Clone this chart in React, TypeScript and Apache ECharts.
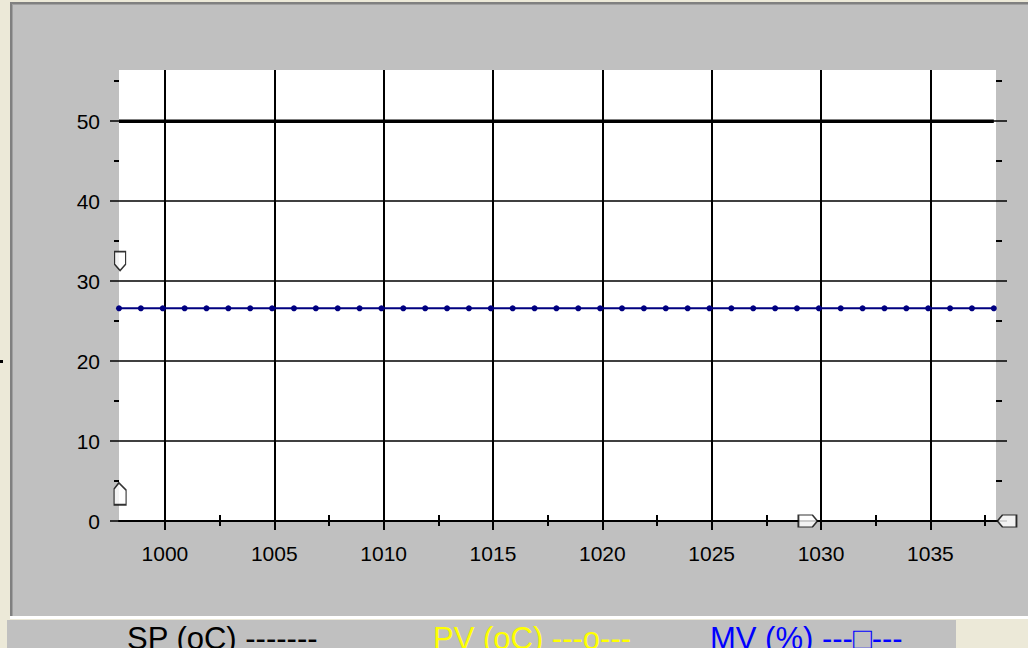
import React, { useEffect, useRef } from "react";
import * as echarts from "echarts";

// ---- data ----
const times = [
  997.9, 998.9, 999.9, 1000.9, 1001.9, 1002.9, 1003.9, 1004.9, 1005.9, 1006.9,
  1007.9, 1008.9, 1009.9, 1010.9, 1011.9, 1012.9, 1013.9, 1014.9, 1015.9, 1016.9,
  1017.9, 1018.9, 1019.9, 1020.9, 1021.9, 1022.9, 1023.9, 1024.9, 1025.9, 1026.9,
  1027.9, 1028.9, 1029.9, 1030.9, 1031.9, 1032.9, 1033.9, 1034.9, 1035.9, 1036.9,
  1037.9,
];
const mvValues = [
  26.6, 26.6, 26.6, 26.6, 26.6, 26.6, 26.6, 26.6, 26.6, 26.6,
  26.6, 26.6, 26.6, 26.6, 26.6, 26.6, 26.6, 26.6, 26.6, 26.6,
  26.6, 26.6, 26.6, 26.6, 26.6, 26.6, 26.6, 26.6, 26.6, 26.6,
  26.6, 26.6, 26.6, 26.6, 26.6, 26.6, 26.6, 26.6, 26.6, 26.6,
  26.6,
];
const spValues = [
  50, 50, 50, 50, 50, 50, 50, 50, 50, 50,
  50, 50, 50, 50, 50, 50, 50, 50, 50, 50,
  50, 50, 50, 50, 50, 50, 50, 50, 50, 50,
  50, 50, 50, 50, 50, 50, 50, 50, 50, 50,
  50,
];
const xMin = 997.9;
const xMax = 1038.0;
const yMin = 0;
const yMax = 56.4;
const xTickValues = [1000, 1005, 1010, 1015, 1020, 1025, 1030, 1035];
const xMinorValues = [1002.5, 1007.5, 1012.5, 1017.5, 1022.5, 1027.5, 1032.5, 1037.5];
const yTickValues = [0, 10, 20, 30, 40, 50];
const yMinorValues = [5, 15, 25, 35, 45, 55];
// cursor handles: [x, y]
const handleUpper = [[997.95, 32.5]];
const handleLower = [[997.95, 3.4]];
const handleBottomA = [[1029.4, 0]];
const handleBottomB = [[1038.5, 0]];
const legendLabels = ["SP (oC) -------", "PV (oC) ---o---", "MV (%) ---□---"];
const legendColors = ["#000000", "#FFFF00", "#0000FF"];

const FONT = "'Liberation Sans', Arial, sans-serif";

const PATH_DOWN = "path://M0,0 L10,0 L10,12 L5,18 L0,12 Z";
const PATH_UP = "path://M4,0 L10,6 L10,18 L0,18 L0,5 Z";
const PATH_RIGHT = "path://M0,0 L14,0 L19,6 L14,12 L0,12 Z";
const PATH_LEFT = "path://M5,0 L19,0 L19,12 L5,12 L0,6 Z";

function buildOption(): any {
  const black = "#000000";
  const gridBox = { left: 119, top: 70, width: 877, height: 451 };
  const handleStyle = { color: "#FFFFFF", borderColor: "#000000", borderWidth: 1.5 };
  const legendX = [127, 433, 710];
  const plain = (v: number) => String(v);
  return {
    animation: false,
    backgroundColor: "transparent",
    grid: [
      { ...gridBox, show: true, backgroundColor: "#FFFFFF", borderWidth: 0 },
      { ...gridBox, show: false },
    ],
    xAxis: [
      {
        gridIndex: 0, type: "value", position: "bottom", min: xMin, max: xMax,
        axisLine: { show: true, onZero: false, lineStyle: { color: black, width: 2 } },
        axisTick: { show: true, customValues: xTickValues, length: 9, lineStyle: { color: black, width: 2 } },
        axisLabel: { show: true, customValues: xTickValues, formatter: plain, margin: 22, color: black, fontSize: 21, fontFamily: FONT },
        splitLine: { show: true, lineStyle: { color: black, width: 2 } },
      },
      {
        gridIndex: 0, type: "value", position: "top", min: xMin, max: xMax,
        axisLine: { show: false },
        axisTick: { show: true, customValues: xTickValues, length: 11, lineStyle: { color: black, width: 2 } },
        axisLabel: { show: false },
        splitLine: { show: false },
      },
      {
        gridIndex: 1, type: "value", position: "bottom", min: xMin, max: xMax,
        axisLine: { show: false },
        axisTick: { show: true, customValues: xMinorValues, length: 5, lineStyle: { color: black, width: 2 } },
        axisLabel: { show: false },
        splitLine: { show: false },
      },
      {
        gridIndex: 1, type: "value", position: "top", min: xMin, max: xMax,
        axisLine: { show: false },
        axisTick: { show: true, customValues: xMinorValues, length: 6, lineStyle: { color: black, width: 2 } },
        axisLabel: { show: false },
        splitLine: { show: false },
      },
    ],
    yAxis: [
      {
        gridIndex: 0, type: "value", position: "left", min: yMin, max: yMax,
        axisLine: { show: false },
        axisTick: { show: true, customValues: yTickValues, length: 9, lineStyle: { color: black, width: 1.5 } },
        axisLabel: { show: true, customValues: yTickValues, formatter: plain, margin: 19, color: black, fontSize: 21, fontFamily: FONT },
        splitLine: { show: true, lineStyle: { color: black, width: 1.5 } },
      },
      {
        gridIndex: 0, type: "value", position: "right", min: yMin, max: yMax,
        axisLine: { show: false },
        axisTick: { show: true, customValues: yTickValues, length: 11, lineStyle: { color: black, width: 1.5 } },
        axisLabel: { show: false },
        splitLine: { show: false },
      },
      {
        gridIndex: 1, type: "value", position: "left", min: yMin, max: yMax,
        axisLine: { show: false },
        axisTick: { show: true, customValues: yMinorValues, length: 5, lineStyle: { color: black, width: 2 } },
        axisLabel: { show: false },
        splitLine: { show: false },
      },
      {
        gridIndex: 1, type: "value", position: "right", min: yMin, max: yMax,
        axisLine: { show: false },
        axisTick: { show: true, customValues: yMinorValues, length: 6, lineStyle: { color: black, width: 2 } },
        axisLabel: { show: false },
        splitLine: { show: false },
      },
    ],
    series: [
      {
        name: "SP (oC)", type: "line", xAxisIndex: 0, yAxisIndex: 0,
        data: times.map((t, i) => [t, spValues[i]]),
        showSymbol: false, symbol: "none",
        lineStyle: { color: black, width: 3.5 }, z: 3,
      },
      {
        name: "MV (%)", type: "line", xAxisIndex: 0, yAxisIndex: 0,
        data: times.map((t, i) => [t, mvValues[i]]),
        symbol: "circle", symbolSize: 6, showSymbol: true,
        itemStyle: { color: "#000080" },
        lineStyle: { color: "#000080", width: 2 }, z: 4,
      },
      { type: "scatter", xAxisIndex: 0, yAxisIndex: 0, data: handleUpper, symbol: PATH_DOWN, symbolSize: [11, 19], clip: false, itemStyle: handleStyle, z: 10, silent: true },
      { type: "scatter", xAxisIndex: 0, yAxisIndex: 0, data: handleLower, symbol: PATH_UP, symbolSize: [12, 22], clip: false, itemStyle: handleStyle, z: 10, silent: true },
      { type: "scatter", xAxisIndex: 0, yAxisIndex: 0, data: handleBottomA, symbol: PATH_RIGHT, symbolSize: [19, 12], clip: false, itemStyle: handleStyle, z: 10, silent: true },
      { type: "scatter", xAxisIndex: 0, yAxisIndex: 0, data: handleBottomB, symbol: PATH_LEFT, symbolSize: [19, 12], clip: false, itemStyle: handleStyle, z: 10, silent: true },
    ],
    graphic: legendLabels.map((label, i) => ({
      type: "text",
      left: legendX[i],
      top: 623,
      style: { text: label, fill: legendColors[i], font: `31px ${FONT}` },
      silent: true,
    })),
  };
}

export default function App() {
  const ref = useRef<HTMLDivElement>(null);
  useEffect(() => {
    const chart = echarts.init(ref.current as HTMLDivElement, null, { renderer: "svg" });
    chart.setOption(buildOption());
    return () => chart.dispose();
  }, []);
  return (
    <div style={{ position: "fixed", left: 0, top: 0, width: 1028, height: 648, background: "#ECE9D8", overflow: "hidden" }}>
      <div style={{ position: "absolute", left: 10, top: 2, width: 1018, height: 614, background: "#C0C0C0", borderTop: "2px solid #808080", borderLeft: "2px solid #808080", boxSizing: "border-box" }} />
      <div style={{ position: "absolute", left: 12, top: 4, width: 1016, height: 1, background: "#A0A0A0" }} />
      <div style={{ position: "absolute", left: 12, top: 4, width: 1, height: 612, background: "#A0A0A0" }} />
      <div style={{ position: "absolute", left: 10, top: 616, width: 1018, height: 3, background: "#FFFFFF" }} />
      <div style={{ position: "absolute", left: 7, top: 620, width: 949, height: 28, background: "#C0C0C0" }} />
      <div style={{ position: "absolute", left: 0, top: 360, width: 3, height: 3, background: "#000000" }} />
      <div ref={ref} style={{ position: "absolute", left: 0, top: 0, width: 1028, height: 648 }} />
    </div>
  );
}
